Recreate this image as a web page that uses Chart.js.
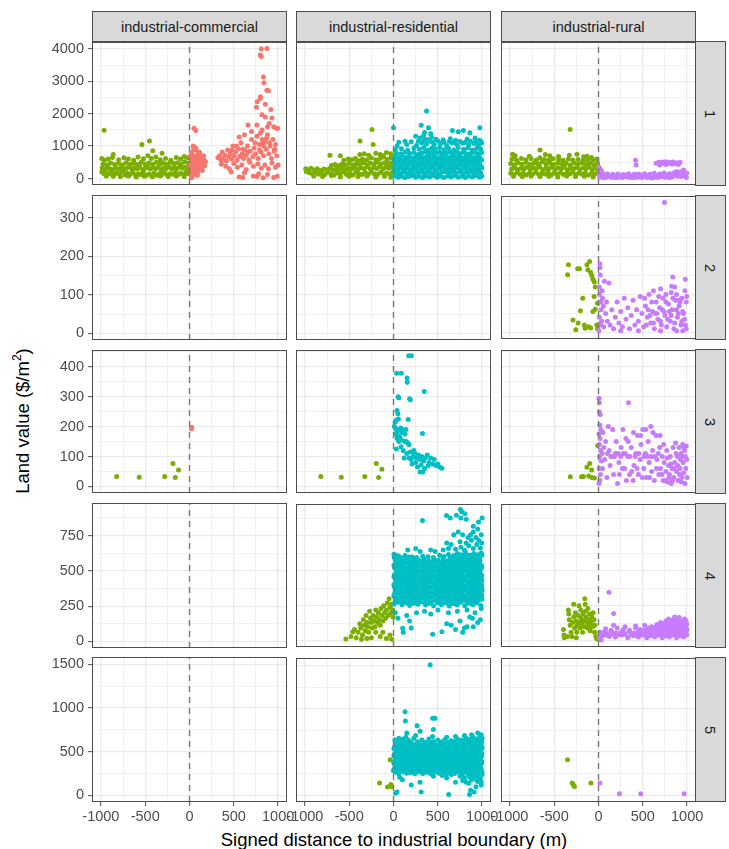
<!DOCTYPE html>
<html>
<head>
<meta charset="utf-8">
<script src="https://cdn.jsdelivr.net/npm/chart.js@4.4.1/dist/chart.umd.min.js"></script>
<style>
  body { margin: 0; background: #fff; width: 729px; height: 849px; position: relative; overflow: hidden;
         font-family: "Liberation Sans", Arial, sans-serif; }
  canvas { position: absolute; }
  .strip { position: absolute; background: #d9d9d9; border: 1px solid #4d4d4d; box-sizing: border-box;
           display: flex; align-items: center; justify-content: center; font-size: 14.5px; color: #1a1a1a; }
  .strip span.rot { display: inline-block; transform: rotate(90deg); }
  .title { position: absolute; font-size: 18.5px; color: #000; white-space: nowrap; }
</style>
</head>
<body>
<script>
/* ---------------------------
   Facets, ticks, colours
---------------------------- */
const columns = ["industrial-commercial", "industrial-residential", "industrial-rural"];
const rows = ["1", "2", "3", "4", "5"];
const xTicks = [-1000, -500, 0, 500, 1000];
const xLimits = [-1100, 1100];
const yTicks = [
    [0, 1000, 2000, 3000, 4000],
    [0, 100, 200, 300],
    [0, 100, 200, 300, 400],
    [0, 250, 500, 750],
    [0, 500, 1000, 1500]
];
const yLimits = [[-200, 4210], [-17, 359], [-22, 456], [-46, 980], [-77, 1585]];
const industrialColor = "#7CAE00";
const otherColors = ["#F8766D", "#00BFC4", "#C77CFF"];

/* ---------------------------
   Points [distance, land value]
---------------------------- */
const row1IndComm = [
[-990,210],[-965,150],[-940,190],[-905,140],[-880,230],[-850,120],[-820,170],[-790,130],[-760,200],[-725,110],[-700,160],[-670,125],[-640,190],[-610,105],[-580,150],[-550,120],[-520,175],[-490,95],[-460,140],[-430,110],[-400,165],[-370,100],[-340,150],[-310,120],[-280,180],[-250,110],[-220,150],[-190,130],[-160,185],[-130,115],[-100,160],[-70,135],[-40,190],[-15,150],
[-985,330],[-955,280],[-925,350],[-895,300],[-865,260],[-835,330],[-800,290],[-770,350],[-740,270],[-710,320],[-680,360],[-650,280],[-620,330],[-590,300],[-560,370],[-530,270],[-500,320],[-470,350],[-440,290],[-410,340],[-380,300],[-350,360],[-320,270],[-290,330],[-260,310],[-230,370],[-200,290],[-170,340],[-140,300],[-110,360],[-80,320],[-50,350],[-20,300],[-5,380],
[-975,450],[-930,420],[-890,480],[-845,430],[-800,470],[-755,420],[-715,490],[-665,440],[-625,480],[-585,430],[-545,500],[-500,450],[-455,480],[-415,430],[-375,500],[-335,450],[-295,480],[-255,440],[-215,510],[-175,460],[-135,490],[-95,440],[-55,520],[-10,470],
[-990,620],[-960,560],[-920,600],[-870,650],[-800,580],[-740,640],[-690,600],[-630,560],[-580,660],[-520,610],[-470,700],[-430,620],[-380,660],[-330,580],[-270,620],[-210,560],[-150,650],[-100,600],[-60,680],[-20,640],
[-940,80],[-860,70],[-780,60],[-690,80],[-600,50],[-510,70],[-420,55],[-330,75],[-240,60],[-150,80],[-60,65],
[-963,1490],[-537,1050],[-452,1160],[-414,860],[-310,780],[-860,740]
];
const row1Comm = [
[8,420],[15,250],[20,600],[25,780],[30,350],[35,150],[40,520],[45,880],[50,300],[55,680],[60,200],[65,450],[70,950],[75,560],[80,330],[85,720],[90,180],[95,480],[100,620],[105,380],[110,260],[115,800],[120,540],[125,420],[130,680],[135,320],[140,580],[150,460],[160,700],[170,390],[180,520],[12,700],[28,60],[42,1000],[58,880],[72,130],[88,90],[102,820],[118,680],[145,250],[165,560],[50,1550],[70,1480],[22,20],
[320,640],[340,700],[355,560],[370,820],[385,620],[400,720],[415,540],[430,880],[445,660],[460,760],[475,600],[490,1000],[505,700],[520,820],[535,560],[550,920],[565,680],[580,1100],[595,760],[610,620],[625,880],[640,720],[655,1000],[670,580],[685,840],[700,1200],[715,680],[730,940],[745,760],[760,1300],[775,620],[790,1050],[805,820],[820,1500],[835,700],[850,1150],[865,900],[880,1350],[895,760],[910,1000],[925,620],[940,1200],[955,840],[970,1050],[985,700],[995,1550],
[360,440],[410,380],[450,300],[500,460],[540,350],[590,420],[640,280],[680,500],[720,380],[770,450],[810,320],[850,420],[890,300],[930,480],[970,350],[1000,420],[560,50],[600,30],[720,80],[760,60],[830,20],[950,30],[990,70],[470,200],[620,180],[780,150],[880,120],
[480,880],[530,1000],[600,900],[660,820],[740,1100],[790,880],[840,1000],[870,1250],[900,1100],[960,900],[820,1200],[800,1400],[760,1650],[830,1100],
[810,4000],[873,4010],[798,3810],[810,3760],[835,3130],[840,2950],[873,2720],[890,2710],[798,2470],[763,2370],[755,2200],[855,2290],[918,2130],[817,1970],[855,1900],[930,1870],[800,2520],[900,1700],[980,1550],[880,1600],[660,1650],[700,1450],[620,1350],[560,1280],[950,1600]
];
const row1IndRes = [
[-985,220],[-950,180],[-915,150],[-880,200],[-845,130],[-810,170],[-775,120],[-740,190],[-705,140],[-670,110],[-635,170],[-600,130],[-565,200],[-530,120],[-495,160],[-460,110],[-425,190],[-390,140],[-355,120],[-320,180],[-285,130],[-250,200],[-215,150],[-180,120],[-145,190],[-110,140],[-75,170],[-40,130],[-10,190],
[-990,300],[-960,270],[-930,320],[-890,260],[-860,300],[-820,250],[-785,290],[-750,270],[-715,320],[-680,260],[-645,300],[-610,280],[-575,340],[-540,270],[-505,310],[-470,290],[-435,350],[-400,280],[-365,330],[-330,300],[-295,360],[-260,290],[-225,340],[-190,310],[-155,370],[-120,300],[-85,350],[-50,320],[-20,380],
[-700,400],[-660,430],[-620,390],[-580,450],[-540,420],[-500,470],[-460,410],[-420,460],[-380,430],[-340,490],[-300,420],[-260,480],[-220,440],[-180,500],[-140,450],[-100,490],[-60,430],[-25,480],
[-560,560],[-510,600],[-470,580],[-430,620],[-390,550],[-350,600],[-300,570],[-250,640],[-200,580],[-150,620],[-110,660],[-70,590],[-30,640],[-5,700],
[-330,760],[-280,720],[-200,780],[-150,740],[-80,800],[-30,760],[-120,700],
[-900,80],[-800,60],[-700,90],[-600,50],[-500,70],[-400,60],[-300,80],[-200,50],[-100,70],[-30,40],
[-243,1510],[-377,1155],[-230,1050],[-717,715],[-600,700],[-380,740]
];
const row1Res = [
[10,80],[50,40],[90,70],[130,30],[170,60],[210,90],[250,40],[290,70],[330,30],[370,80],[410,50],[450,90],[490,40],[530,70],[570,30],[610,80],[650,50],[690,90],[730,40],[770,70],[810,30],[850,80],[890,50],[930,90],[970,40],[995,70],
[25,190],[65,160],[105,210],[145,170],[185,200],[225,150],[265,190],[305,220],[345,160],[385,200],[425,170],[465,210],[505,150],[545,190],[585,220],[625,160],[665,200],[705,170],[745,210],[785,150],[825,190],[865,220],[905,160],[945,200],[985,170],
[5,310],[45,280],[85,330],[125,290],[165,320],[205,270],[245,310],[285,340],[325,280],[365,320],[405,290],[445,330],[485,270],[525,310],[565,340],[605,280],[645,320],[685,290],[725,330],[765,270],[805,310],[845,340],[885,280],[925,320],[965,290],[998,330],
[20,430],[60,400],[100,450],[140,410],[180,440],[220,390],[260,430],[300,460],[340,400],[380,440],[420,410],[460,450],[500,390],[540,430],[580,460],[620,400],[660,440],[700,410],[740,450],[780,390],[820,430],[860,460],[900,400],[940,440],[980,410],
[8,550],[48,520],[88,570],[128,530],[168,560],[208,510],[248,550],[288,580],[328,520],[368,560],[408,530],[448,570],[488,510],[528,550],[568,580],[608,520],[648,560],[688,530],[728,570],[768,510],[808,550],[848,580],[888,520],[928,560],[968,530],[995,570],
[15,670],[55,640],[95,690],[135,650],[175,680],[215,630],[255,670],[295,700],[335,640],[375,680],[415,650],[455,690],[495,630],[535,670],[575,700],[615,640],[655,680],[695,650],[735,690],[775,630],[815,670],[855,700],[895,640],[935,680],[975,650],
[30,790],[80,760],[130,810],[180,770],[230,800],[280,750],[320,790],[360,820],[400,760],[440,800],[480,770],[520,810],[560,750],[600,790],[640,820],[680,760],[720,800],[760,770],[800,810],[840,750],[880,790],[920,820],[960,760],[995,800],
[20,880],[90,920],[160,870],[230,940],[290,900],[340,950],[390,880],[430,930],[470,900],[520,960],[570,890],[620,930],[680,880],[730,950],[790,900],[840,940],[890,880],[940,930],[985,900],
[40,1000],[150,1050],[260,1020],[320,1100],[370,1060],[410,1150],[460,1040],[530,1080],[600,1020],[660,1100],[720,1030],[780,1090],[850,1040],[910,1080],[960,1020],[995,1100],
[60,1120],[200,1130],[280,1150],[350,1180],[440,1120],[500,1160],[570,1120],[630,1150],[690,1110],[750,1140],[810,1120],[870,1150],[930,1130],[980,1160],
[300,1250],[340,1320],[380,1200],[430,1280],[480,1210],[560,1190],[640,1230],[700,1180],[830,1220],[920,1250],[970,1180],
[373,2080],[0,1565],[313,1645],[395,1565],[665,1480],[732,1440],[788,1480],[862,1410],[974,1565],[350,1420],[420,1380],[250,1300],[130,1150]
];
const row1IndRur = [
[-990,160],[-955,120],[-920,180],[-885,130],[-850,170],[-815,110],[-780,160],[-745,130],[-710,190],[-675,120],[-640,160],[-605,140],[-570,190],[-535,110],[-500,170],[-465,130],[-430,180],[-395,120],[-360,160],[-325,140],[-290,190],[-255,120],[-220,170],[-185,130],[-150,180],[-115,110],[-80,160],[-45,130],[-10,180],
[-980,290],[-945,330],[-910,270],[-875,320],[-840,300],[-805,350],[-770,280],[-735,330],[-700,300],[-665,360],[-630,270],[-595,320],[-560,300],[-525,350],[-490,280],[-455,330],[-420,300],[-385,350],[-350,270],[-315,320],[-280,300],[-245,340],[-210,280],[-175,330],[-140,300],[-105,350],[-70,270],[-35,320],[-5,290],
[-990,460],[-950,420],[-905,480],[-860,440],[-815,500],[-770,430],[-725,480],[-680,450],[-635,510],[-590,440],[-545,480],[-500,430],[-455,490],[-410,440],[-365,470],[-320,420],[-275,480],[-230,440],[-185,490],[-140,430],[-95,470],[-50,420],[-10,460],
[-975,600],[-925,560],[-870,620],[-820,580],[-760,610],[-700,570],[-660,640],[-610,590],[-560,560],[-510,610],[-450,580],[-400,560],[-340,600],[-290,570],[-230,590],[-170,560],[-120,580],[-60,560],[-20,600],
[-970,746],[-940,700],[-780,690],[-660,878],[-600,740],[-550,700],[-450,680],[-330,720],[-242,746],[-168,675],[-130,690],[-80,650],
[-960,70],[-860,60],[-760,80],[-660,60],[-560,70],[-460,50],[-360,80],[-260,60],[-160,70],[-60,50],
[-320,1510]
];
const row1Rur = [
[5,350],[15,300],[25,260],[10,220],[5,180],[10,90],[20,140],[35,60],[50,120],[70,80],[90,40],[110,100],[130,60],[150,30],[170,90],[190,50],[210,110],[230,40],[250,80],[270,30],[290,70],[310,110],[330,40],[350,80],[370,30],[390,90],[410,50],[430,120],[450,40],[470,80],[490,30],[510,100],[530,60],[550,30],[570,90],[590,50],[610,120],[630,40],[650,80],[670,30],[690,100],[710,60],[730,140],[750,40],[770,90],[790,60],[810,130],[830,50],[850,100],[870,160],[890,70],[910,130],[930,60],[950,200],[970,110],[985,60],[995,170],
[960,260],[920,200],[880,220],[850,180],[800,150],[740,170],[690,140],[630,160],[580,130],[520,150],[460,140],[400,130],[340,150],[280,120],[220,140],[160,130],[100,150],[40,200],[15,40],[60,20],[200,20],[400,20],[600,15],[800,20],[990,30],
[650,470],[680,500],[700,450],[720,510],[740,480],[760,520],[780,460],[800,500],[820,480],[840,510],[860,460],[880,490],[900,470],[920,500],[690,420],[760,430],[830,440],[900,430],[418,560],[425,420]
];
const row2IndRur = [
[-339,178],[-349,152],[-235,168],[-215,168],[-131,178],[-100,187],[-89,158],[-63,140],[-47,133],[-37,120],[-11,77],[-178,90],[-204,57],[-287,33],[-256,7],[-151,11],[-89,12],[-63,55],[-37,61],[-120,165],[-75,150],[-50,95],[-20,20],[-10,10],[-230,25],[-160,20],[-110,15]
];
const row2Rur = [
[15,181],[17,171],[20,151],[67,135],[118,130],[8,120],[12,100],[25,80],[30,60],[10,40],[20,20],[5,5],[40,110],[45,90],[55,70],[35,30],[60,15],[80,50],[100,30],[90,80],
[130,20],[150,60],[170,10],[190,40],[210,80],[230,25],[250,55],[270,15],[290,90],[310,35],[330,65],[350,10],[370,45],[390,85],[410,20],[430,60],[450,30],[470,95],[490,50],[510,15],[530,70],[550,40],[570,100],[590,25],[610,55],[630,10],[650,80],[670,35],[690,65],[710,20],[730,90],[750,45],[770,15],[790,75],[810,30],[830,60],[850,10],[870,85],[890,40],[910,70],[930,20],[950,55],[970,35],[990,80],
[520,90],[560,60],[600,80],[640,50],[680,95],[720,60],[760,80],[800,55],[840,90],[880,60],[920,80],[960,50],[995,95],
[540,20],[580,45],[620,25],[660,50],[700,30],[740,55],[780,35],[820,45],[860,25],[900,50],[940,30],[980,20],
[620,110],[700,115],[760,100],[820,105],[880,100],[940,90],[975,110],[860,120],[910,85],
[745,342],[838,146],[979,140],[826,122],[990,10],[950,5],[880,5],[700,5],[450,5],[250,5]
];
const row3IndComm = [[-822,33],[-567,31],[-280,33],[-187,77],[-124,55],[-160,30]];
const row3Comm = [[22,193],[26,198]];
const row3IndRes = [[-820,33],[-589,31],[-324,33],[-194,77],[-131,57],[-168,30]];
const row3Res = [
[171,437],[202,437],[36,378],[88,378],[153,362],[155,348],[52,300],[60,296],[181,293],[190,290],[347,317],[40,254],[50,243],[30,221],[55,225],[20,215],[166,224],[10,200],[20,195],[30,190],[45,185],[60,190],[80,195],[100,190],[120,185],[140,190],[25,175],[50,170],[70,165],[95,180],[130,175],[327,177],[40,160],[60,150],[90,155],[130,150],[160,145],[175,140],[32,125],[85,133],[110,120],[150,110],[190,115],[220,100],[240,110],[260,95],[280,105],[300,90],[320,100],[340,85],[360,95],[380,105],[400,80],[420,95],[440,75],[460,90],[311,72],[270,65],[330,48],[300,48],[546,61],[520,65],[500,75],[480,70],[200,90],[210,75],[250,80],[230,120],[390,70],[350,60],[120,95],[175,95],[145,150]
];
const row3IndRur = [[-318,32],[-192,32],[-170,33],[-131,64],[-99,77],[-77,55],[-110,35],[-77,30],[-46,28],[-10,137]];
const row3Rur = [
[5,295],[10,280],[8,250],[20,240],[15,205],[25,190],[5,175],[18,160],[10,140],[25,120],[12,100],[30,85],[8,60],[22,40],[15,20],[5,10],[40,110],[50,180],[60,130],[70,90],[45,60],[80,150],[95,30],[110,200],[120,120],[130,70],[150,100],[160,190],[170,40],[190,110],[200,150],[215,10],[230,80],[250,100],[270,60],[280,110],[300,110],[310,160],[330,100],[338,280],[350,40],[370,130],[390,20],[400,70],[420,110],[440,170],[450,40],[470,90],[480,140],[500,190],[510,60],[530,110],[540,30],[560,150],[570,80],[590,200],[600,50],[610,120],[630,20],[650,170],[660,90],[680,40],[690,130],[700,60],[720,100],[730,20],[740,80],[760,50],[770,120],[780,15],[790,70],[800,40],[810,100],[820,10],[830,60],[840,130],[850,30],[860,80],[870,145],[880,50],[890,100],[900,20],[910,130],[920,60],[930,110],[940,30],[950,140],[955,80],[960,45],[970,120],[975,10],[980,100],[985,60],[990,135],[995,90],[1000,30],
[965,130],[945,100],[935,15],[925,90],[915,40],[895,70],[875,110],[855,60],[835,20],[815,75],[795,30],[775,95],[755,20],[735,140],[715,40],[695,170],[675,110],[655,60],[635,100],[615,180],[595,100],[575,30],[555,100],[535,190],[515,100],[495,30],[475,170],[455,110],[435,60],[415,100],[395,180],[375,50],[355,100],[335,150],[315,20],[295,60],[275,190],[255,130],[235,40],[220,110],[180,100],[140,100],[100,110]
];
const row4IndRes = [
[-537,12],[-459,64],[-480,30],[-440,80],[-420,20],[-400,60],[-380,120],[-370,90],[-350,40],[-340,150],[-330,110],[-320,70],[-310,180],[-300,130],[-290,100],[-280,60],[-270,210],[-260,160],[-250,130],[-240,90],[-230,180],[-220,140],[-210,100],[-200,220],[-190,170],[-180,130],[-170,200],[-160,150],[-150,110],[-140,230],[-130,180],[-120,140],[-110,250],[-100,200],[-90,160],[-80,220],[-70,270],[-60,180],[-50,300],[-40,240],[-30,200],[-20,260],[-10,220],[-5,170],[-360,10],[-250,20],[-150,30],[-120,60],[-80,15],[-40,40],[-20,10],[-200,60],[-300,15]
];
const row4Res = [
[5,262],[48,275],[95,258],[140,270],[182,252],[228,268],[275,260],[318,278],[362,255],[410,266],[452,250],[498,272],[540,258],[585,270],[628,248],[672,265],[718,255],[760,275],[805,250],[850,268],[895,258],[940,272],[985,252],
[25,298],[70,305],[115,292],[160,310],[205,296],[250,302],[295,288],[340,308],[385,295],[430,312],[475,290],[520,304],[565,298],[610,310],[655,292],[700,306],[745,296],[790,312],[835,290],[880,302],[925,295],[970,308],[998,296],
[8,332],[52,340],[98,328],[142,345],[188,330],[232,338],[278,325],[322,342],[368,333],[412,347],[458,327],[502,340],[548,332],[592,345],[638,328],[682,338],[728,330],[772,347],[818,326],[862,340],[908,333],[952,345],[995,328],
[28,368],[72,375],[118,362],[162,380],[208,366],[252,372],[298,360],[342,378],[388,368],[432,382],[478,362],[522,375],[568,368],[612,380],[658,364],[702,372],[748,366],[792,382],[838,360],[882,375],[928,368],[972,380],[1000,362],
[5,402],[50,410],[95,398],[140,415],[185,400],[230,408],[275,395],[320,412],[365,402],[410,418],[455,396],[500,410],[545,402],[590,415],[635,398],[680,408],[725,400],[770,418],[815,395],[860,410],[905,402],[950,415],[995,398],
[22,438],[68,445],[112,432],[158,450],[202,436],[248,442],[292,430],[338,448],[382,438],[428,452],[472,432],[518,445],[562,438],[608,450],[652,434],[698,442],[742,436],[788,452],[832,430],[878,445],[922,438],[968,450],[998,432],
[10,472],[55,480],[100,468],[145,485],[190,470],[235,478],[280,465],[325,482],[370,472],[415,488],[460,466],[505,480],[550,472],[595,485],[640,468],[685,478],[730,470],[775,488],[820,465],[865,480],[910,472],[955,485],[995,468],
[30,508],[75,515],[120,502],[165,520],[210,506],[255,512],[300,500],[345,518],[390,508],[435,522],[480,502],[525,515],[570,508],[615,520],[660,504],[705,512],[750,506],[795,522],[840,500],[885,515],[930,508],[975,520],
[5,542],[48,550],[92,538],[138,555],[182,540],[228,548],[272,535],[318,552],[362,542],[408,558],[452,536],[498,550],[542,542],[588,555],[632,538],[678,548],[722,540],[768,558],[812,535],[858,550],[902,542],[948,555],[992,538],
[20,578],[65,585],[110,572],[150,590],[195,570],[240,582],[290,575],[345,588],[400,570],[455,584],[505,576],[560,590],[610,572],[660,585],[705,578],[750,592],[795,570],[840,585],[885,578],[930,590],[975,574],
[5,620],[12,600],[30,612],[60,605],[130,610],[210,600],[330,605],[520,612],[620,618],[680,610],[720,625],[770,615],[815,628],[860,612],[905,625],[950,615],[990,628],
[560,650],[620,660],[700,655],[760,670],[800,650],[850,680],[900,660],[940,690],[980,665],[995,700],[880,720],[930,740],[960,720],[990,760],[840,740],[900,780],[950,800],[820,700],[750,710],[650,690],[600,700],[470,640],[420,650],[300,640],[900,820],[960,850],[1000,880],[870,760],[780,760],[760,880],[710,900],[327,862],[598,898],[640,880],[755,940],[770,925],[806,910],[820,870],[730,780],[680,760],[160,650],[250,660],
[103,88],[110,60],[181,141],[200,90],[442,45],[546,64],[600,120],[650,110],[700,80],[750,140],[780,60],[800,90],[860,170],[900,100],[950,130],[980,150],[20,200],[50,160],[150,180],[260,200],[350,210],[420,190],[500,220],[620,200],[720,210],[830,220],[920,200],[990,230],[830,100],[890,160]
];
const row4ResFill = [
[27,284],[72,280],[118,288],[162,278],[205,286],[250,282],[297,290],[340,276],[385,285],[430,281],[475,289],[520,279],[563,287],[607,283],[650,277],[695,288],[740,282],[783,290],[828,278],[873,286],[918,281],[962,289],
[5,320],[48,316],[93,324],[138,314],[183,322],[228,318],[273,326],[318,312],[363,321],[408,317],[453,325],[498,315],[543,323],[588,319],[633,313],[678,324],[723,318],[768,326],[813,314],[858,322],[903,317],[948,325],[992,315],
[30,354],[75,350],[120,358],[165,348],[210,356],[255,352],[300,360],[345,346],[390,355],[435,351],[480,359],[525,349],[570,357],[615,353],[660,347],[705,358],[750,352],[795,360],[840,348],[885,356],[930,351],[975,359],
[8,390],[50,386],[96,394],[140,384],[186,392],[230,388],[276,396],[320,382],[366,391],[410,387],[456,395],[500,385],[546,393],[590,389],[636,383],[680,394],[726,388],[770,396],[816,384],[860,392],[906,387],[950,395],[995,385],
[28,424],[73,420],[118,428],[163,418],[208,426],[253,422],[298,430],[343,416],[388,425],[433,421],[478,429],[523,419],[568,427],[613,423],[658,417],[703,428],[748,422],[793,430],[838,418],[883,426],[928,421],[973,429],
[5,459],[45,455],[90,463],[135,453],[180,461],[225,457],[270,465],[315,451],[360,460],[405,456],[450,464],[495,454],[540,462],[585,458],[630,452],[675,463],[720,457],[765,465],[810,453],[855,461],[900,456],[945,464],[990,454],
[32,494],[78,490],[122,498],[168,488],[212,496],[258,492],[302,500],[348,486],[392,495],[438,491],[482,499],[528,489],[572,497],[618,493],[662,487],[708,498],[752,492],[798,500],[842,488],[888,496],[932,491],[978,499],
[8,529],[52,525],[98,533],[142,523],[188,531],[232,527],[278,535],[322,521],[368,530],[412,526],[458,534],[502,524],[548,532],[592,528],[638,522],[682,533],[728,527],[772,535],[818,523],[862,531],[908,526],[952,534],[996,524],
[28,564],[72,560],[118,568],[162,558],[205,566],[250,562],[295,570],[340,556],[385,565],[430,561],[475,569],[520,559],[565,567],[610,563],[655,557],[700,568],[745,562],[790,570],[835,558],[880,566],[925,561],[970,569],
[8,598],[45,604],[88,592],[175,600],[260,596],[390,602],[450,596],[570,604],[640,598],[700,606],[745,612],[792,600],[838,610],[882,604],[928,612],[972,600],[998,612]
];
const row4IndRur = [
[-395,80],[-390,40],[-385,20],[-340,220],[-335,190],[-330,150],[-320,110],[-310,60],[-300,30],[-290,130],[-280,170],[-270,90],[-260,200],[-250,140],[-245,60],[-240,110],[-230,180],[-220,250],[-215,130],[-210,90],[-200,220],[-195,160],[-190,120],[-180,60],[-175,190],[-170,140],[-160,100],[-155,300],[-150,260],[-145,210],[-140,170],[-130,130],[-125,90],[-120,230],[-115,150],[-110,110],[-100,190],[-95,70],[-90,140],[-80,120],[-75,170],[-70,100],[-60,200],[-50,150],[-45,60],[-40,110],[-30,30],[-20,15],[-10,10],[-280,260],[-250,20],[-350,30]
];
const row4Rur = [
[10,20],[40,35],[120,30],[190,25],[260,40],[330,20],[400,35],[450,25],[500,40],[545,20],[590,35],[635,25],[680,40],[720,20],[760,35],[800,25],[840,40],[880,20],[920,35],[960,25],[995,40],
[60,60],[100,50],[150,65],[200,55],[250,60],[300,50],[350,65],[400,55],[445,60],[490,50],[535,65],[580,55],[625,60],[670,50],[715,65],[760,55],[805,60],[850,50],[895,65],[940,55],[985,60],
[80,85],[140,75],[210,90],[280,80],[350,75],[420,90],[470,80],[520,75],[565,90],[610,80],[655,75],[700,90],[745,80],[790,75],[835,90],[880,80],[925,75],[970,90],[998,80],
[170,110],[300,100],[420,105],[520,110],[600,100],[660,115],[710,105],[760,110],[810,100],[850,115],[890,105],[930,110],[970,100],[995,115],
[700,130],[760,140],[800,125],[840,150],[880,135],[910,165],[940,140],[970,155],[990,130],[860,170],[790,155],
[118,346],[171,195],[30,5],[15,60],
[25,45],[85,40],[160,45],[230,42],[295,45],[365,40],[425,45],[475,42],[522,45],[568,40],[612,45],[658,42],[700,45],[742,40],[782,45],[822,42],[862,45],[902,40],[942,45],[978,42],
[560,70],[605,68],[648,72],[692,70],[735,68],[778,72],[820,70],[862,68],[905,72],[948,70],[990,68],
[640,98],[688,95],[735,98],[780,96],[825,100],[870,96],[915,98],[958,95],
[730,120],[780,122],[825,125],[870,120],[915,125],[955,122],[985,145],[960,130],[895,150],[820,140]
];
const row5IndRes = [[-37,412],[-157,141],[-68,95],[-30,126],[-20,100]];
const row5Res = [
[20,265],[60,250],[105,270],[150,255],[195,262],[240,248],[285,268],[330,252],[375,266],[420,250],[465,270],[510,255],[555,262],[600,248],[645,268],[690,252],[735,266],[780,250],[825,270],[870,255],[915,262],[960,248],[998,268],
[5,300],[42,310],[85,295],[128,305],[172,292],[215,310],[258,298],[302,306],[345,292],[388,310],[432,296],[475,305],[518,292],[562,310],[605,298],[648,306],[692,292],[735,310],[778,296],[822,305],[865,292],[908,310],[952,298],[990,306],
[25,345],[68,352],[112,338],[155,348],[198,335],[242,352],[285,340],[328,348],[372,335],[415,352],[458,340],[502,348],[545,335],[588,352],[632,340],[675,348],[718,335],[762,352],[805,340],[848,348],[892,335],[935,352],[978,340],
[5,385],[45,395],[90,380],[132,392],[175,378],[220,395],[262,382],[305,392],[350,378],[392,395],[435,382],[480,392],[522,378],[565,395],[610,382],[652,392],[695,378],[740,395],[782,382],[825,392],[870,378],[912,395],[955,382],[995,392],
[22,430],[65,438],[110,425],[152,435],[195,422],[240,438],[282,428],[325,435],[370,422],[412,438],[455,428],[500,435],[542,422],[585,438],[630,428],[672,435],[715,422],[760,438],[802,428],[845,435],[890,422],[932,438],[975,428],
[8,472],[50,480],[95,468],[138,478],[180,465],[225,480],[268,470],[310,478],[355,465],[398,480],[440,470],[485,478],[528,465],[570,480],[615,470],[658,478],[700,465],[745,480],[788,470],[830,478],[875,465],[918,480],[960,470],[998,478],
[28,515],[72,522],[115,508],[158,518],[202,505],[245,522],[288,510],[332,518],[375,505],[418,522],[462,510],[505,518],[548,505],[592,522],[635,510],[678,518],[722,505],[765,522],[808,510],[852,518],[895,505],[938,522],[982,510],
[10,552],[55,560],[98,548],[142,558],[185,545],[228,560],[272,550],[315,558],[358,545],[402,560],[445,550],[488,558],[532,545],[575,560],[618,550],[662,558],[705,545],[748,560],[792,550],[835,558],[878,545],[922,560],[965,550],[998,558],
[30,590],[80,600],[130,588],[180,598],[235,585],[290,598],[350,590],[410,600],[470,588],[525,598],[580,590],[630,600],[680,588],[725,598],[770,590],[815,602],[860,592],[905,600],[950,590],[990,602],
[15,640],[60,630],[110,650],[170,635],[230,660],[320,640],[400,650],[500,640],[580,645],[650,630],[720,650],[770,640],[820,660],[860,645],[900,670],[940,650],[975,680],[1000,660],[880,700],[950,720],[990,700],[800,690],[700,680],[600,670],[440,680],[250,690],[140,670],[60,660],
[760,230],[800,200],[840,240],[880,180],[920,220],[960,200],[1000,240],[780,170],[860,210],[940,170],[990,150],[820,150],[900,240],
[414,1508],[130,966],[134,859],[442,890],[468,890],[266,802],[150,720],[450,760],[300,740],[23,23],[40,38],[312,38],[623,11],[858,11],[910,38],[300,150],[200,120],[100,180],[70,210],[600,200],[700,150],[800,170],[850,140],[900,200],[950,160],[990,120],[750,220],[650,240],[550,230],[450,220],[980,190],[930,100],[870,60]
];
const row5ResFill = [
[0,285],[40,280],[82,288],[128,278],[172,286],[218,282],[262,290],[308,276],[352,285],[398,281],[442,289],[488,279],[532,287],[578,283],[622,277],[668,288],[712,282],[758,290],[802,278],[848,286],[892,281],[938,289],[980,279],
[22,326],[64,320],[108,328],[150,318],[194,327],[238,322],[280,330],[324,316],[366,325],[410,321],[454,329],[496,319],[540,327],[584,323],[626,317],[670,328],[714,322],[758,330],[800,318],[844,326],[888,321],[930,329],[972,319],
[5,368],[46,362],[90,370],[134,360],[176,369],[220,364],[264,372],[306,358],[350,367],[394,363],[436,371],[480,361],[524,369],[566,365],[610,359],[654,370],[696,364],[740,372],[784,360],[826,368],[870,363],[914,371],[956,361],[995,369],
[25,412],[68,406],[112,414],[154,404],[198,413],[242,408],[284,416],[328,402],[372,411],[414,407],[458,415],[502,405],[544,413],[588,409],[632,403],[674,414],[718,408],[762,416],[804,404],[848,412],[892,407],[934,415],[978,405],
[5,454],[44,448],[88,456],[130,446],[174,455],[218,450],[260,458],[304,444],[348,453],[390,449],[434,457],[478,447],[520,455],[564,451],[608,445],[650,456],[694,450],[738,458],[780,446],[824,454],[868,449],[910,457],[954,447],[995,455],
[28,497],[72,491],[116,499],[158,489],[202,498],[246,493],[288,501],[332,487],[376,496],[418,492],[462,500],[506,490],[548,498],[592,494],[636,488],[678,499],[722,493],[766,501],[808,489],[852,497],[896,492],[938,500],[980,490],
[5,537],[48,531],[92,539],[136,529],[178,538],[222,533],[266,541],[308,527],[352,536],[396,532],[438,540],[482,530],[526,538],[568,534],[612,528],[656,539],[698,533],[742,541],[786,529],[828,537],[872,532],[916,540],[958,530],[998,538],
[20,577],[60,571],[105,579],[155,569],[205,578],[260,573],[320,581],[380,570],[440,576],[500,572],[550,580],[605,570],[655,578],[700,574],[748,568],[792,579],[838,573],[882,581],[928,569],[970,577],
[35,617],[85,610],[140,620],[200,612],[270,618],[360,612],[450,620],[540,615],[620,610],[680,622],[740,615],[790,625],[840,618],[880,630],[920,620],[960,635],[995,625]
];
const row5IndRur = [[-349,412],[-297,141],[-271,103],[-86,141],[-285,125]];
const row5Rur = [[15,141],[236,19],[476,19],[966,19]];

// [row][column] -> [industrial side, other side]
const panels = [
    [[row1IndComm, row1Comm], [row1IndRes, row1Res], [row1IndRur, row1Rur]],
    [[[], []], [[], []], [row2IndRur, row2Rur]],
    [[row3IndComm, row3Comm], [row3IndRes, row3Res], [row3IndRur, row3Rur]],
    [[[], []], [row4IndRes, row4Res.concat(row4ResFill)], [row4IndRur, row4Rur]],
    [[[], []], [row5IndRes, row5Res.concat(row5ResFill)], [row5IndRur, row5Rur]]
];

/* ---------------------------
   Layout
---------------------------- */
const colLeft = [92, 296, 501];
const rowTop = [41, 195, 349, 503, 657];
const panelW = 195, panelH = 145;
const PAD = 22, TP = 3, BP = 3;
const POINT_R = 2.5;

Chart.defaults.font.family = '"Liberation Sans", Arial, sans-serif';
Chart.defaults.animation = false;

function addDiv(cls, html, css) {
    const d = document.createElement("div");
    d.className = cls;
    d.innerHTML = html;
    Object.assign(d.style, css);
    document.body.appendChild(d);
    return d;
}

// major + minor grid values in ggplot style
function gridValues(majors, min, max) {
    const step = majors[1] - majors[0];
    const out = majors.map(v => ({ value: v, minor: false }));
    for (let v = majors[0] - step / 2; v <= max; v += step) {
        if (v >= min) out.push({ value: v, minor: true });
    }
    return out.sort((a, b) => a.value - b.value);
}

const panelBorder = {
    id: "panelBorder",
    afterDatasetsDraw(chart) {
        const { ctx, chartArea: a } = chart;
        ctx.save();
        ctx.strokeStyle = "#4d4d4d";
        ctx.lineWidth = 1;
        ctx.strokeRect(Math.round(a.left) + 0.5, Math.round(a.top) + 0.5,
                       Math.round(a.right - a.left) - 1, Math.round(a.bottom - a.top) - 1);
        ctx.restore();
    }
};

const gridStyle = showTicks => ({
    color: "#ebebeb",
    lineWidth: c => (c.tick && c.tick.minor ? 0.7 : 1.3),
    drawTicks: showTicks,
    tickLength: 4,
    tickWidth: 1,
    tickColor: c => (c.tick && c.tick.minor ? "rgba(0,0,0,0)" : "#4d4d4d")
});

const tickFont = { size: 14.5 };
const labelOf = (v, i, ticks) => (ticks[i] && ticks[i].minor ? "" : String(v));

/* ---------------------------
   Strips and titles
---------------------------- */
columns.forEach((name, c) => {
    addDiv("strip", name, { left: colLeft[c] + "px", top: "11px", width: panelW + "px", height: "31px" });
});
rows.forEach((name, r) => {
    addDiv("strip", '<span class="rot">' + name + "</span>",
        { left: (colLeft[2] + panelW - 1) + "px", top: rowTop[r] + "px", width: "31px", height: panelH + "px" });
});
addDiv("title", "Land value ($/m<sup style=\"font-size:12px\">2</sup>)",
    { left: "22px", top: "421px", transform: "translate(-50%,-50%) rotate(-90deg)" });
addDiv("title", "Signed distance to industrial boundary (m)",
    { left: "394px", top: "840px", transform: "translate(-50%,-50%)" });

/* ---------------------------
   Panels
---------------------------- */
for (let r = 0; r < rows.length; r++) {
    for (let c = 0; c < columns.length; c++) {
        const isLeft = c === 0, isBottom = r === rows.length - 1;
        const yw = isLeft ? 60 : 0, xh = isBottom ? 30 : 0;
        const [yMin, yMax] = yLimits[r];
        const w = panelW + yw + 2 * PAD, h = panelH + xh + TP + BP;

        const cv = document.createElement("canvas");
        cv.width = w; cv.height = h;
        cv.style.left = (colLeft[c] - yw - PAD) + "px";
        cv.style.top = (rowTop[r] - TP) + "px";
        document.body.appendChild(cv);

        const [ind, other] = panels[r][c];
        const xGrid = gridValues(xTicks, xLimits[0], xLimits[1]);
        const yGrid = gridValues(yTicks[r], yMin, yMax);

        new Chart(cv, {
            type: "scatter",
            data: {
                datasets: [
                    {
                        type: "line",
                        data: [{ x: 0, y: yMin }, { x: 0, y: yMax }],
                        borderColor: "#7a7a7a",
                        borderWidth: 1.4,
                        borderDash: [6, 5],
                        pointRadius: 0,
                        fill: false
                    },
                    {
                        data: other.map(([x, y]) => ({ x, y })),
                        backgroundColor: otherColors[c],
                        pointRadius: POINT_R,
                        borderWidth: 0
                    },
                    {
                        data: ind.map(([x, y]) => ({ x, y })),
                        backgroundColor: industrialColor,
                        pointRadius: POINT_R,
                        borderWidth: 0
                    }
                ]
            },
            options: {
                responsive: false,
                devicePixelRatio: 1,
                events: [],
                layout: { padding: { left: PAD, right: PAD, top: TP, bottom: BP } },
                plugins: { legend: { display: false }, tooltip: { enabled: false } },
                scales: {
                    x: {
                        type: "linear",
                        bounds: "data",
                        min: xLimits[0],
                        max: xLimits[1],
                        afterBuildTicks: s => { s.ticks = xGrid.map(t => ({ ...t })); },
                        afterFit: s => { s.height = xh; s.paddingLeft = 0; s.paddingRight = 0; },
                        ticks: {
                            display: isBottom, autoSkip: false, maxRotation: 0, minRotation: 0,
                            padding: 2, color: "#4d4d4d", font: tickFont, callback: labelOf
                        },
                        grid: gridStyle(isBottom),
                        border: { display: false }
                    },
                    y: {
                        type: "linear",
                        bounds: "data",
                        min: yMin,
                        max: yMax,
                        afterBuildTicks: s => { s.ticks = yGrid.map(t => ({ ...t })); },
                        afterFit: s => { s.width = yw; s.paddingTop = 0; s.paddingBottom = 0; },
                        ticks: {
                            display: isLeft, autoSkip: false,
                            padding: 4, color: "#4d4d4d", font: tickFont, callback: labelOf
                        },
                        grid: gridStyle(isLeft),
                        border: { display: false }
                    }
                }
            },
            plugins: [panelBorder]
        });
    }
}
</script>
</body>
</html>
